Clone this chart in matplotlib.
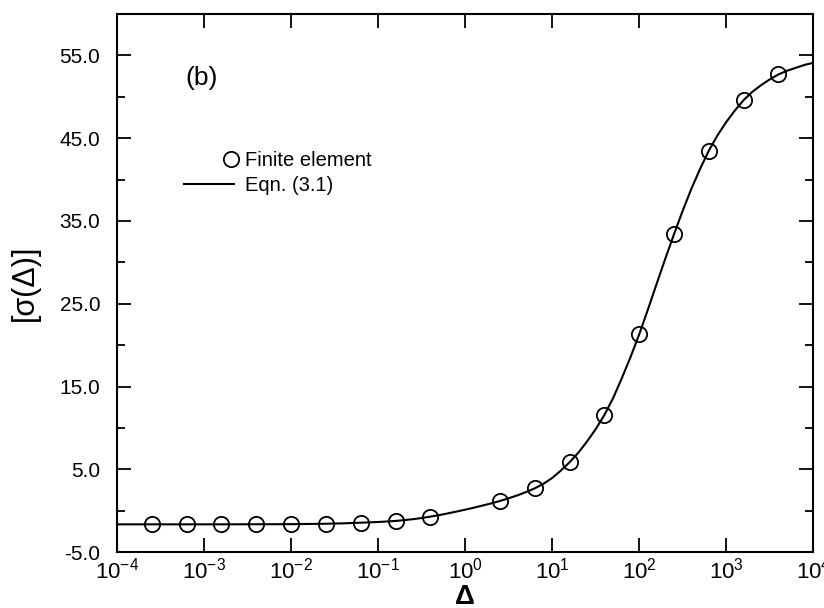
import numpy as np
import matplotlib
matplotlib.use("Agg")
import matplotlib.pyplot as plt
from matplotlib.legend_handler import HandlerLine2D

plt.rcParams['font.family'] = ['Liberation Sans', 'DejaVu Sans']
plt.rcParams['mathtext.fontset'] = 'custom'
plt.rcParams['mathtext.rm'] = 'Liberation Sans'
plt.rcParams['mathtext.it'] = 'Liberation Sans:italic'
plt.rcParams['mathtext.bf'] = 'Liberation Sans:bold'

# Finite element points (log10 of Delta, sigma)
fe_logx = [-3.6, -3.2, -2.8, -2.4, -2.0, -1.6, -1.2, -0.8, -0.4,
           0.4, 0.8, 1.2, 1.6, 2.0, 2.4, 2.8, 3.2, 3.6]
fe_sigma = [-1.64, -1.64, -1.64, -1.64, -1.63, -1.58, -1.45, -1.24, -0.72,
            1.17, 2.7, 5.85, 11.56, 21.3, 33.4, 43.5, 49.6, 52.7]

# Eqn. (3.1) curve
eq_logx = [-4.0, -3.6, -3.2, -2.8, -2.4, -2.0, -1.6, -1.4, -1.2, -1.0, -0.8,
           -0.7, -0.6, -0.5, -0.4, -0.3, -0.2, -0.1, 0.0, 0.1, 0.2, 0.3, 0.4,
           0.5, 0.6, 0.7, 0.8, 0.9, 1.0, 1.1, 1.2, 1.3, 1.4, 1.5, 1.6, 1.7,
           1.8, 1.9, 2.0, 2.1, 2.2, 2.3, 2.4, 2.5, 2.6, 2.7, 2.8, 2.9, 3.0,
           3.1, 3.2, 3.3, 3.4, 3.5, 3.6, 3.7, 3.8, 3.9, 4.0]
eq_sigma = [-1.65, -1.65, -1.65, -1.65, -1.64, -1.63, -1.58, -1.53, -1.45,
            -1.37, -1.24, -1.14, -1.03, -0.89, -0.72, -0.54, -0.33, -0.11,
            0.12, 0.36, 0.62, 0.88, 1.17, 1.5, 1.85, 2.25, 2.7, 3.25, 3.95,
            4.85, 5.85, 7.0, 8.35, 9.85, 11.56, 13.6, 16.0, 18.55, 21.3, 24.3,
            27.4, 30.45, 33.4, 36.25, 38.9, 41.3, 43.5, 45.35, 46.95, 48.35,
            49.6, 50.6, 51.4, 52.1, 52.7, 53.15, 53.5, 53.85, 54.1]

xtick_exps = [-4, -3, -2, -1, 0, 1, 2, 3, 4]
ytick_major = [-5.0, 5.0, 15.0, 25.0, 35.0, 45.0, 55.0]
ytick_minor = [0, 10, 20, 30, 40, 50]

fig = plt.figure(figsize=(8.24, 6.08), dpi=100)
ax = fig.add_axes([0.142, 0.092, 0.845, 0.885])

ax.plot([10.0 ** v for v in eq_logx], eq_sigma, color='black', lw=1.5,
        label='Eqn. (3.1)', zorder=2, solid_joinstyle='round')
ax.plot([10.0 ** v for v in fe_logx], fe_sigma, linestyle='none', marker='o',
        markersize=11, markerfacecolor='none', markeredgecolor='black',
        markeredgewidth=1.3, label='Finite element', zorder=3)

ax.set_xscale('log')
ax.set_xlim(1e-4, 1e4)
ax.set_ylim(-5, 60)

ax.set_xticks([10.0 ** e for e in xtick_exps])
ax.set_xticklabels([r'$\mathregular{10^{%d}}$' % e for e in xtick_exps])
ax.xaxis.set_minor_locator(matplotlib.ticker.NullLocator())
ax.set_yticks(ytick_major)
ax.set_yticklabels(['%.1f' % v for v in ytick_major])
ax.set_yticks(ytick_minor, minor=True)

ax.tick_params(axis='both', which='major', direction='in', length=10, width=1.3,
               labelsize=15, top=True, right=True)
ax.tick_params(axis='y', which='minor', direction='in', length=6, width=1.3,
               right=True)
ax.tick_params(axis='x', which='major', pad=4, labelsize=16)
ax.tick_params(axis='y', which='major', pad=12)
for s in ax.spines.values():
    s.set_linewidth(1.5)

ax.set_xlabel('Δ', fontsize=20, fontweight='bold', labelpad=0)
ax.set_ylabel('[σ(Δ)]', fontsize=22, labelpad=14)

ax.text(0.098, 0.881, '(b)', transform=ax.transAxes, fontsize=19, va='center')


class RightMarkerHandler(HandlerLine2D):
    def create_artists(self, legend, orig_handle, xdescent, ydescent, width,
                       height, fontsize, trans):
        arts = super().create_artists(legend, orig_handle, xdescent, ydescent,
                                      width, height, fontsize, trans)
        for a in arts:
            if a.get_marker() not in (None, 'None', ''):
                a.set_xdata([width - xdescent - 2])
        return arts


h, l = ax.get_legend_handles_labels()
leg = ax.legend(h[::-1], l[::-1], loc='upper left', bbox_to_anchor=(0.070, 0.779),
                frameon=False, fontsize=14.5, handlelength=2.5, handletextpad=0.55,
                labelspacing=0.3, numpoints=1,
                handler_map={h[1]: RightMarkerHandler()})

fig.savefig('out.png', dpi=100)
